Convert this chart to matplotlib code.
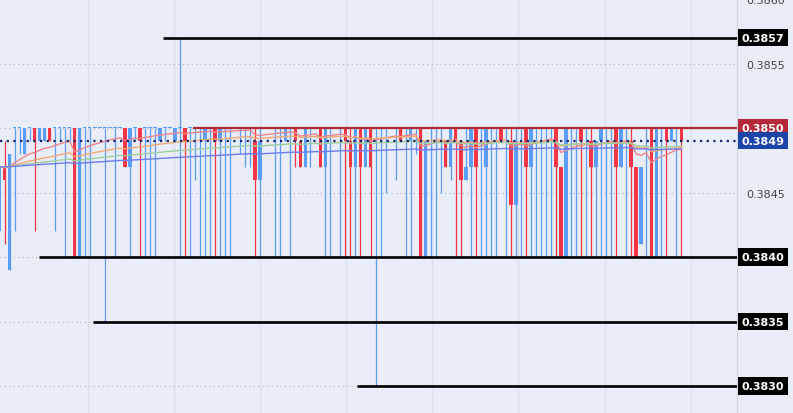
import matplotlib
matplotlib.use('Agg')
import matplotlib.pyplot as plt
import matplotlib.transforms as mtransforms
import numpy as np
import pandas as pd

# prices in units of 0.0001
opens = [3842, 3847, 3839, 3850, 3850, 3848, 3850, 3850, 3849, 3849,
         3850, 3850, 3850, 3850, 3850, 3850, 3840, 3850, 3850, 3850,
         3850, 3850, 3850, 3850, 3850, 3850, 3847, 3850, 3850, 3850,
         3850, 3850, 3849, 3850, 3850, 3849, 3850, 3850, 3850, 3850,
         3850, 3849, 3850, 3850, 3849, 3850, 3850, 3850, 3850, 3850,
         3850, 3849, 3846, 3850, 3850, 3850, 3850, 3849, 3850, 3850,
         3849, 3847, 3850, 3850, 3850, 3847, 3850, 3850, 3850, 3850,
         3849, 3847, 3850, 3847, 3850, 3850, 3850, 3850, 3850, 3850,
         3850, 3850, 3849, 3850, 3850, 3840, 3850, 3850, 3850, 3849,
         3847, 3850, 3849, 3846, 3847, 3850, 3850, 3847, 3850, 3850,
         3850, 3850, 3849, 3844, 3850, 3850, 3847, 3850, 3850, 3850,
         3850, 3850, 3847, 3840, 3850, 3850, 3850, 3850, 3849, 3847,
         3849, 3850, 3850, 3850, 3847, 3850, 3849, 3847, 3841, 3850,
         3850, 3840, 3850, 3850, 3849, 3850, 3850]
highs = [3847, 3849, 3848, 3850, 3850, 3850, 3850, 3850, 3850, 3850,
         3850, 3850, 3850, 3850, 3850, 3850, 3850, 3850, 3850, 3850,
         3850, 3850, 3850, 3850, 3850, 3850, 3850, 3850, 3850, 3850,
         3850, 3850, 3850, 3850, 3850, 3850, 3857, 3850, 3850, 3850,
         3850, 3850, 3850, 3850, 3850, 3850, 3850, 3850, 3850, 3850,
         3850, 3850, 3850, 3850, 3850, 3850, 3850, 3850, 3850, 3850,
         3849, 3850, 3850, 3850, 3850, 3850, 3850, 3850, 3850, 3850,
         3850, 3850, 3850, 3850, 3850, 3850, 3850, 3850, 3850, 3850,
         3850, 3850, 3850, 3850, 3850, 3849, 3850, 3850, 3850, 3849,
         3850, 3850, 3849, 3850, 3850, 3850, 3850, 3850, 3850, 3850,
         3850, 3850, 3850, 3850, 3850, 3850, 3850, 3850, 3850, 3850,
         3850, 3850, 3847, 3850, 3850, 3850, 3850, 3850, 3850, 3849,
         3850, 3850, 3850, 3850, 3850, 3850, 3850, 3847, 3847, 3850,
         3850, 3850, 3850, 3850, 3850, 3850, 3850]
lows = [3842, 3841, 3839, 3842, 3848, 3848, 3849, 3842, 3849, 3849,
        3849, 3842, 3849, 3840, 3849, 3840, 3840, 3840, 3840, 3850,
        3850, 3835, 3850, 3840, 3850, 3847, 3840, 3849, 3840, 3840,
        3840, 3840, 3849, 3849, 3850, 3849, 3840, 3840, 3840, 3846,
        3840, 3840, 3840, 3840, 3840, 3840, 3840, 3850, 3848, 3847,
        3847, 3840, 3840, 3850, 3850, 3840, 3840, 3849, 3840, 3847,
        3847, 3847, 3847, 3850, 3847, 3840, 3840, 3850, 3840, 3840,
        3840, 3840, 3840, 3847, 3840, 3830, 3840, 3845, 3850, 3846,
        3849, 3840, 3840, 3848, 3840, 3840, 3840, 3840, 3845, 3847,
        3846, 3840, 3840, 3846, 3840, 3840, 3840, 3840, 3840, 3840,
        3849, 3840, 3840, 3840, 3840, 3840, 3840, 3840, 3840, 3840,
        3840, 3840, 3840, 3840, 3840, 3840, 3840, 3840, 3840, 3840,
        3840, 3840, 3840, 3840, 3847, 3840, 3840, 3840, 3841, 3840,
        3840, 3840, 3840, 3840, 3849, 3840, 3840]
closes = [3847, 3846, 3848, 3850, 3850, 3850, 3850, 3849, 3850, 3850,
          3849, 3850, 3850, 3850, 3850, 3840, 3850, 3850, 3850, 3850,
          3850, 3850, 3850, 3850, 3850, 3847, 3850, 3850, 3849, 3850,
          3850, 3850, 3850, 3850, 3850, 3850, 3850, 3849, 3850, 3850,
          3850, 3850, 3850, 3849, 3850, 3850, 3850, 3850, 3850, 3850,
          3850, 3846, 3849, 3850, 3850, 3850, 3850, 3850, 3850, 3849,
          3847, 3850, 3850, 3850, 3847, 3850, 3850, 3850, 3850, 3849,
          3847, 3850, 3847, 3850, 3847, 3850, 3850, 3850, 3850, 3850,
          3849, 3850, 3850, 3850, 3840, 3849, 3850, 3850, 3850, 3847,
          3850, 3849, 3846, 3847, 3850, 3847, 3850, 3850, 3850, 3850,
          3849, 3850, 3844, 3849, 3850, 3847, 3850, 3850, 3850, 3850,
          3850, 3847, 3840, 3850, 3850, 3850, 3849, 3850, 3847, 3849,
          3850, 3850, 3850, 3847, 3850, 3850, 3847, 3840, 3847, 3850,
          3840, 3850, 3850, 3849, 3850, 3850, 3849]

ema_spans = [20, 50, 100, 200]
ema_colors = ['#f08588', '#f4aa72', '#9dcf9c', '#6f7cf0']

# drawn horizontal levels: price, start candle
black_levels = [0.3857, 0.3840, 0.3835, 0.3830]
black_starts = [32.6, 7.9, 18.6, 71.3]
red_level = 0.3850
red_start = 38.6

axis_ticks = [0.3830, 0.3835, 0.3840, 0.3845, 0.3850, 0.3855, 0.3860]

bg = '#e9edf8'
up_col = '#5b9cf6'
down_col = '#f23645'

o = np.array(opens) / 1e4
h = np.array(highs) / 1e4
l = np.array(lows) / 1e4
c = np.array(closes) / 1e4
x = np.arange(len(o))
cols = [down_col if cc < oo else up_col for oo, cc in zip(o, c)]

fig = plt.figure(figsize=(7.93, 4.14), dpi=100)
fig.patch.set_facecolor(bg)
ax = fig.add_axes([0, 0, 737 / 793, 1])
ax.set_facecolor(bg)
ax.set_xlim(0.1, 147.1)
ax.set_ylim(0.382791, 0.386)

# grid
ax.set_xticks(np.arange(17.6, 147, 17.18))
ax.set_yticks(axis_ticks)
ax.grid(axis='x', color='#dde1ed', lw=1, zorder=0)
ax.grid(axis='y', color='#aeb2be', lw=0.8, linestyle=(0, (1, 3)), zorder=0)
ax.tick_params(axis='x', length=0, labelbottom=False)
ax.yaxis.tick_right()
ax.tick_params(axis='y', length=0, pad=7, labelsize=8, labelcolor='#444444')
# labels under the price tags are hidden anyway
tagged = black_levels + [red_level]
ax.set_yticklabels(['' if any(abs(v - t) < 1e-7 for t in tagged) else '%.4f' % v
                    for v in axis_ticks])
for s in ['top', 'left', 'bottom']:
    ax.spines[s].set_visible(False)
ax.spines['right'].set_color('#d3d7e0')
ax.spines['right'].set_linewidth(1)

# candles
ax.vlines(x, l, h, colors=cols, lw=0.9, zorder=2)
body_h = np.maximum(np.abs(c - o), 0.0000085)
ax.bar(x, body_h, bottom=np.minimum(o, c), width=0.7, color=cols, linewidth=0,
       antialiased=False, zorder=3)

# moving averages
for span, col in zip(ema_spans, ema_colors):
    ema = pd.Series(c).ewm(span=span, adjust=False).mean()
    ax.plot(x, ema, color=col, lw=1, zorder=4)

xmax = ax.get_xlim()[1]
for lv, st in zip(black_levels, black_starts):
    ax.hlines(lv, st, xmax, color='black', lw=1.9, zorder=5)
ax.hlines(red_level, red_start, xmax, color='#b22833', lw=1.6, zorder=5)
ax.axhline(c[-1], color='#16256e', lw=1.6, linestyle=(0, (1, 2)), zorder=6)

# price labels on the right axis
tr = mtransforms.blended_transform_factory(ax.transAxes, ax.transData)
def tag(val, face):
    ax.text(1 + 4.5 / 737, val, '%.4f' % val, transform=tr, ha='left', va='center',
            color='white', fontsize=8, fontweight='bold', clip_on=False, zorder=10,
            bbox=dict(boxstyle='square,pad=0.32', fc=face, ec='none'))

for lv in black_levels:
    tag(lv, 'black')
tag(red_level, '#b5283a')
tag(c[-1], '#1a44a8')

fig.savefig('out.png', dpi=100, facecolor=bg)
